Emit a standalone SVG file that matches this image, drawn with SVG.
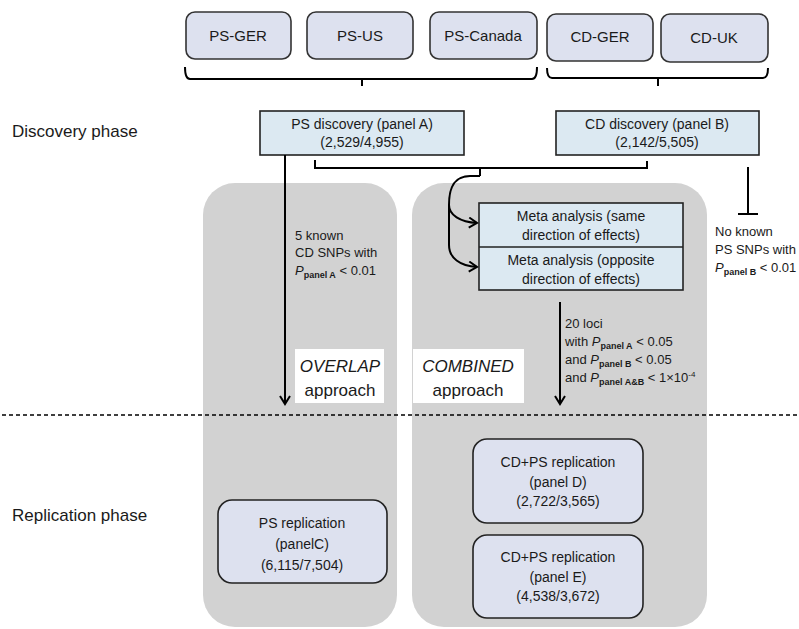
<svg xmlns="http://www.w3.org/2000/svg" width="799" height="629" viewBox="0 0 799 629">
<defs>
<marker id="arr" markerWidth="12" markerHeight="12" refX="10" refY="6" orient="auto" markerUnits="userSpaceOnUse">
<path d="M2,1 L10,6 L2,11" fill="none" stroke="#000" stroke-width="2"/>
</marker>
<style>
text{font-family:"Liberation Sans",Arial,sans-serif;fill:#1a1a1a}
.top{fill:#dde1ef;stroke:#333;stroke-width:1.6}
.disc{fill:#dce9f2;stroke:#222;stroke-width:1.6}
.rep{fill:#dde1ef;stroke:#222;stroke-width:1.6}
.grey{fill:#d2d2d2}
.lbl{font-size:17px}
.bt{font-size:14px;text-anchor:middle}
.tb{font-size:15px;text-anchor:middle}
.sm{font-size:13px}
.sub{font-size:9px;font-weight:bold}
.ln{fill:none;stroke:#000;stroke-width:2}
</style>
</defs>
<rect width="799" height="629" fill="#fff"/>

<g id="bg-overlap"><rect class="grey" x="203" y="183" width="194" height="444" rx="32"/></g>
<g id="bg-combined"><rect class="grey" x="412" y="183" width="295" height="444" rx="32"/></g>

<g id="ps-ger"><rect class="top" x="186" y="12" width="105" height="47" rx="9"/><text class="tb" x="238" y="41">PS-GER</text></g>
<g id="ps-us"><rect class="top" x="307" y="12" width="106" height="47" rx="9"/><text class="tb" x="360" y="41">PS-US</text></g>
<g id="ps-canada"><rect class="top" x="430" y="12" width="107" height="47" rx="9"/><text class="tb" x="483" y="41">PS-Canada</text></g>
<g id="cd-ger"><rect class="top" x="547" y="14" width="106" height="47" rx="9"/><text class="tb" x="600" y="42">CD-GER</text></g>
<g id="cd-uk"><rect class="top" x="661" y="14" width="107" height="48" rx="9"/><text class="tb" x="714" y="43">CD-UK</text></g>

<g id="labels">
<text class="lbl" x="12" y="137">Discovery phase</text>
<text class="lbl" x="12" y="521">Replication phase</text>
</g>

<g id="ps-discovery"><rect class="disc" x="260" y="111" width="204" height="44"/>
<text class="bt" x="362" y="129">PS discovery (panel A)</text><text class="bt" x="362" y="147">(2,529/4,955)</text></g>
<g id="cd-discovery"><rect class="disc" x="556" y="111" width="203" height="44"/>
<text class="bt" x="657" y="129">CD discovery (panel B)</text><text class="bt" x="657" y="147">(2,142/5,505)</text></g>

<g id="meta-analysis"><rect class="disc" x="479" y="203" width="204" height="87"/>
<line x1="479" y1="247" x2="683" y2="247" stroke="#222" stroke-width="1.6"/>
<text class="bt" x="581" y="221">Meta analysis (same</text><text class="bt" x="581" y="240">direction of effects)</text>
<text class="bt" x="581" y="265">Meta analysis (opposite</text><text class="bt" x="581" y="284">direction of effects)</text></g>

<g id="overlap-label"><rect x="295" y="349" width="89" height="54" fill="#fff"/>
<text class="lbl" x="340" y="372" text-anchor="middle" font-style="italic">OVERLAP</text>
<text class="lbl" x="340" y="396" text-anchor="middle">approach</text></g>
<g id="combined-label"><rect x="413" y="349" width="111" height="54" fill="#fff"/>
<text class="lbl" x="468" y="372" text-anchor="middle" font-style="italic">COMBINED</text>
<text class="lbl" x="468" y="396" text-anchor="middle">approach</text></g>

<g id="ps-replication"><rect class="rep" x="218" y="500" width="169" height="83" rx="14"/>
<text class="bt" x="302" y="528" font-size="14.5">PS replication</text><text class="bt" x="302" y="549">(panelC)</text><text class="bt" x="302" y="570">(6,115/7,504)</text></g>
<g id="cdps-replication-d"><rect class="rep" x="473" y="439" width="170" height="84" rx="14"/>
<text class="bt" x="558" y="467">CD+PS replication</text><text class="bt" x="558" y="487">(panel D)</text><text class="bt" x="558" y="506">(2,722/3,565)</text></g>
<g id="cdps-replication-e"><rect class="rep" x="473" y="535" width="170" height="83" rx="14"/>
<text class="bt" x="558" y="562">CD+PS replication</text><text class="bt" x="558" y="582">(panel E)</text><text class="bt" x="558" y="601">(4,538/3,672)</text></g>

<g id="connectors">
<path class="ln" d="M185,67 Q185,79 190,79 L532,79 Q537,79 537,67 M362,79 L362,86"/>
<path class="ln" d="M547,68 Q547,78 552,78 L763,78 Q768,78 768,68 M658,78 L658,86"/>
<path class="ln" d="M315,160 L315,168 L647,168 L647,161 M480,168 L480,176"/>
<path class="ln" d="M480,176 L470,176 C450,176 449,195 449,205 C449,215 460,222 477,223" marker-end="url(#arr)"/>
<path class="ln" d="M449,205 L449,245 C449,258 460,266 477,267" marker-end="url(#arr)"/>
<line class="ln" x1="285" y1="155" x2="285" y2="404" marker-end="url(#arr)"/>
<line class="ln" x1="560" y1="302" x2="560" y2="404" marker-end="url(#arr)"/>
<path class="ln" d="M748,167 L748,214 M738,214 L758,214"/>
<line x1="2" y1="415" x2="799" y2="415" stroke="#000" stroke-width="1.3" stroke-dasharray="4,3"/>
</g>

<g id="notes">
<text class="sm" x="295" y="240">5 known</text>
<text class="sm" x="295" y="257">CD SNPs with</text>
<text class="sm" x="295" y="275"><tspan font-style="italic">P</tspan><tspan class="sub" dy="3">panel A</tspan><tspan dy="-3"> &lt; 0.01</tspan></text>
<text class="sm" x="715" y="236">No known</text>
<text class="sm" x="715" y="254">PS SNPs with</text>
<text class="sm" x="715" y="272"><tspan font-style="italic">P</tspan><tspan class="sub" dy="3">panel B</tspan><tspan dy="-3"> &lt; 0.01</tspan></text>
<text class="sm" x="565" y="328">20 loci</text>
<text class="sm" x="565" y="346">with <tspan font-style="italic">P</tspan><tspan class="sub" dy="3">panel A</tspan><tspan dy="-3"> &lt; 0.05</tspan></text>
<text class="sm" x="565" y="364">and  <tspan font-style="italic">P</tspan><tspan class="sub" dy="3">panel B</tspan><tspan dy="-3"> &lt; 0.05</tspan></text>
<text class="sm" x="565" y="382">and  <tspan font-style="italic">P</tspan><tspan class="sub" dy="3">panel A&amp;B</tspan><tspan dy="-3"> &lt; 1×10</tspan><tspan font-size="8" dy="-5">-4</tspan></text>
</g>
</svg>
